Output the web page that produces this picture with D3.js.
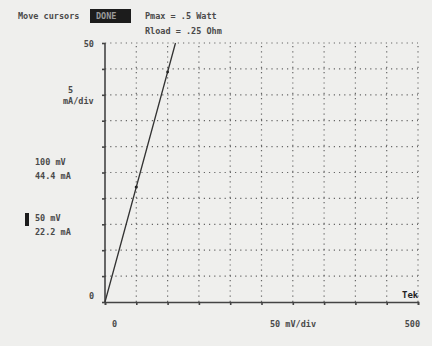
<!DOCTYPE html>
<html>
<head>
<meta charset="utf-8">
<script src="https://cdnjs.cloudflare.com/ajax/libs/d3/7.8.5/d3.min.js"></script>
<style>
  body { margin: 0; background: #efefed; }
  svg text { font-family: "DejaVu Sans Mono", monospace; font-size: 8.5px; font-weight: bold; fill: #4a4a4a; }
</style>
</head>
<body>
<div id="chart"></div>
<script>
	var width = 432,
		height = 346;

	// load line (mV vs mA)
	var voltsMv = [0, 50, 100, 112.6];
	var currentMa = [0, 22.2, 44.4, 50];
	var xTicks = d3.range(0, 501, 50);
	var yTicks = d3.range(0, 51, 5);
	var cursorMv = 50, cursorMa = 22.2;
	var refMv = 100, refMa = 44.4;

	var x = d3.scaleLinear().domain([0, 500]).range([105, 418]);
	var y = d3.scaleLinear().domain([0, 50]).range([302, 43]);

	var svg = d3.select('#chart').append('svg')
		.attr('width', width)
		.attr('height', height);

	svg.append('rect').attr('width', width).attr('height', height).attr('fill', '#efefed');

	// dotted graticule
	svg.selectAll('line.vgrid')
		.data(xTicks.slice(1))
		.enter().append('line')
		.attr('class', 'vgrid')
		.attr('x1', function(d){ return x(d); })
		.attr('x2', function(d){ return x(d); })
		.attr('y1', y(0))
		.attr('y2', y(50))
		.attr('stroke', '#666')
		.attr('stroke-width', 1.2)
		.attr('stroke-dasharray', '1.2,4');

	svg.selectAll('line.hgrid')
		.data(yTicks.slice(1))
		.enter().append('line')
		.attr('class', 'hgrid')
		.attr('x1', x(0))
		.attr('x2', x(500))
		.attr('y1', function(d){ return y(d); })
		.attr('y2', function(d){ return y(d); })
		.attr('stroke', '#666')
		.attr('stroke-width', 1.2)
		.attr('stroke-dasharray', '1.2,4');

	// axes
	var xAxis = d3.axisBottom(x).tickValues(xTicks).tickSize(3).tickFormat('');
	var yAxis = d3.axisLeft(y).tickValues(yTicks).tickSize(3).tickFormat('');

	svg.append('g').attr('transform', 'translate(0,' + y(0) + ')').call(xAxis)
		.call(function(g){ g.selectAll('path, line').attr('stroke', '#444').attr('stroke-width', 1.6); });
	svg.append('g').attr('transform', 'translate(' + x(0) + ',0)').call(yAxis)
		.call(function(g){ g.selectAll('path, line').attr('stroke', '#444').attr('stroke-width', 1.6); })
		.select('.domain').attr('d', 'M0,' + y(0) + 'V' + y(50));

	// load line
	var line = d3.line()
		.x(function(d, i){ return x(voltsMv[i]); })
		.y(function(d){ return y(d); });

	svg.append('path')
		.datum(currentMa)
		.attr('d', line)
		.attr('fill', 'none')
		.attr('stroke', '#333')
		.attr('stroke-width', 1.3);

	svg.append('circle').attr('cx', x(cursorMv)).attr('cy', y(cursorMa)).attr('r', 1.6).attr('fill', '#222');
	svg.append('circle').attr('cx', x(refMv)).attr('cy', y(refMa)).attr('r', 1.4).attr('fill', '#222');

	// header
	svg.append('text').attr('x', 18).attr('y', 19).text('Move cursors');
	svg.append('rect').attr('x', 90).attr('y', 9).attr('width', 41).attr('height', 14).attr('fill', '#1c1c1c');
	svg.append('text').attr('x', 96).attr('y', 19).style('fill', '#9a9a9a').text('DONE');
	svg.append('text').attr('x', 145).attr('y', 19).text('Pmax  = .5 Watt');
	svg.append('text').attr('x', 145).attr('y', 34).text('Rload = .25 Ohm');

	// y scale labels
	svg.append('text').attr('x', 94).attr('y', 47).attr('text-anchor', 'end').text(yTicks[yTicks.length - 1]);
	svg.append('text').attr('x', 94).attr('y', 299).attr('text-anchor', 'end').text(yTicks[0]);
	svg.append('text').attr('x', 68).attr('y', 93).text('5');
	svg.append('text').attr('x', 63).attr('y', 104).text('mA/div');

	// cursor readouts
	svg.append('text').attr('x', 35).attr('y', 165).text(refMv + ' mV');
	svg.append('text').attr('x', 35).attr('y', 179).text(refMa.toFixed(1) + ' mA');
	svg.append('rect').attr('x', 25).attr('y', 213).attr('width', 4).attr('height', 13).attr('fill', '#1c1c1c');
	svg.append('text').attr('x', 35).attr('y', 221).text(cursorMv + ' mV');
	svg.append('text').attr('x', 35).attr('y', 235).text(cursorMa.toFixed(1) + ' mA');

	// x scale labels
	svg.append('text').attr('x', 112).attr('y', 327).text(xTicks[0]);
	svg.append('text').attr('x', 270).attr('y', 327).text('50 mV/div');
	svg.append('text').attr('x', 420).attr('y', 327).attr('text-anchor', 'end').text(xTicks[xTicks.length - 1]);

	svg.append('text').attr('x', 402).attr('y', 298)
		.style('font-size', '9px').style('fill', '#222').text('Tek');
</script>
</body>
</html>
